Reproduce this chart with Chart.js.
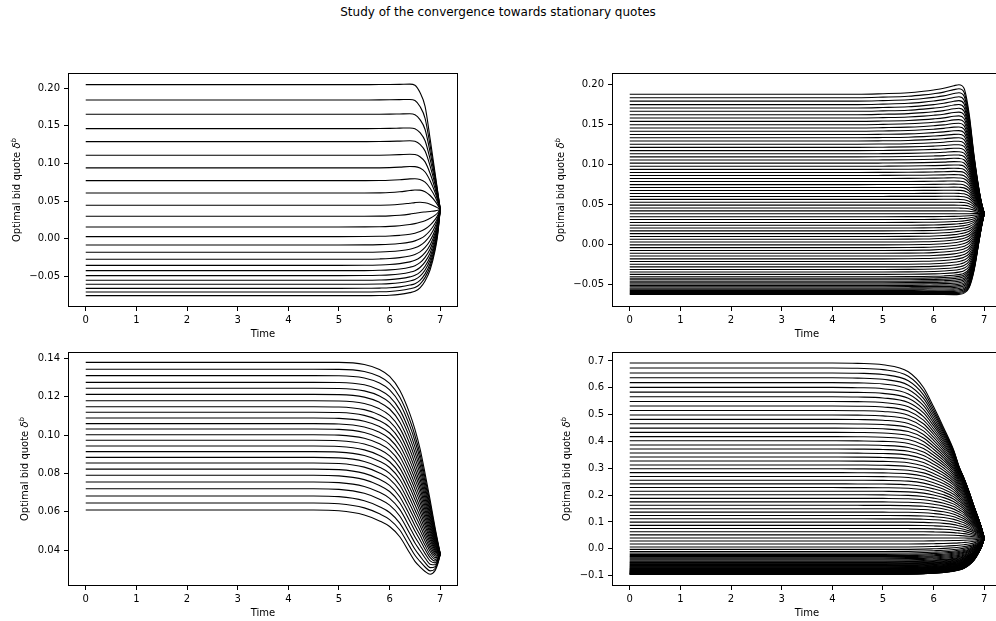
<!DOCTYPE html>
<html>
<head>
<meta charset="utf-8">
<script src="https://cdn.jsdelivr.net/npm/chart.js@4.4.0/dist/chart.umd.min.js"></script>
<style>
  html, body { margin: 0; padding: 0; background: #fff; overflow: hidden; width: 996px; height: 621px; }
  body { position: relative; font-family: "DejaVu Sans", sans-serif; }
  #suptitle { position: absolute; left: 0; top: 5px; width: 996px; text-align: center; font-size: 12px; line-height: 14px; color: #000; }
  canvas { position: absolute; }
</style>
</head>
<body>
<div id="suptitle">Study of the convergence towards stationary quotes</div>
<canvas id="chartA"></canvas>
<canvas id="chartB"></canvas>
<canvas id="chartC"></canvas>
<canvas id="chartD"></canvas>
<script>
// time grid shared by every curve
const times = [0, 4.0, 4.5, 5.0, 5.5, 5.8, 6.0, 6.2, 6.4, 6.5, 6.6, 6.7, 6.8, 6.9, 6.95, 7.0];
const xTicks = [0, 1, 2, 3, 4, 5, 6, 7];

// --- top left ---
const levelsA = [0.2049, 0.1845, 0.1654, 0.1464, 0.1291, 0.1109, 0.0941, 0.0772, 0.0608, 0.0444,
  0.0298, 0.0156, 0.0028, -0.0083, -0.0181, -0.0274, -0.0354, -0.0425, -0.0491, -0.0553,
  -0.0606, -0.0660, -0.0708, -0.0757];
const bumpsA = [0.001, 0.0015, 0.002, 0.0025, 0.003, 0.0035, 0.004, 0.0045, 0.0055, 0.0045,
  0.003, 0.0015, 0, 0, 0, 0, 0, 0, 0, 0, 0, 0, 0, 0];
const endA = 0.039;
const hiNearA = [1, 1, 1, 1, 1, 1, 1, 0.995, 0.98, 0.96, 0.92, 0.84, 0.68, 0.42, 0.23, 0];
const hiFarA = [1, 1, 1, 1, 1, 1, 1, 1, 1, 0.99, 0.93, 0.82, 0.56, 0.28, 0.14, 0];
const loNearA = [1, 1, 1, 1, 0.995, 0.985, 0.97, 0.94, 0.89, 0.84, 0.77, 0.67, 0.52, 0.32, 0.18, 0];
const loFarA = [1, 1, 1, 1, 1, 0.998, 0.995, 0.985, 0.965, 0.95, 0.91, 0.83, 0.70, 0.47, 0.29, 0];
const bumpShapeA = [0, 0, 0, 0, 0, 0.03, 0.1, 0.3, 0.65, 0.85, 1.0, 0.95, 0.72, 0.36, 0.17, 0];
const yTicksA = [-0.05, 0.00, 0.05, 0.10, 0.15, 0.20];

// --- top right ---
const levelsB = [0.1880, 0.1837, 0.1794, 0.1751, 0.1709, 0.1667, 0.1625, 0.1583, 0.1541, 0.1500,
  0.1459, 0.1418, 0.1377, 0.1336, 0.1296, 0.1256, 0.1216, 0.1176, 0.1136, 0.1097,
  0.1058, 0.1019, 0.0980, 0.0941, 0.0903, 0.0865, 0.0827, 0.0789, 0.0751, 0.0714,
  0.0677, 0.0640, 0.0603, 0.0566, 0.0530, 0.0494, 0.0458, 0.0422, 0.0386, 0.0350,
  0.0314, 0.0278, 0.0243, 0.0208, 0.0173, 0.0138, 0.0103, 0.0068, 0.0033, -0.0002,
  -0.0037, -0.0072, -0.0107, -0.0142, -0.0177, -0.0211, -0.0245, -0.0278, -0.0310, -0.0341,
  -0.0371, -0.0400, -0.0420, -0.0439, -0.0457, -0.0475, -0.0492, -0.0509, -0.0525, -0.0541,
  -0.0556, -0.0571, -0.0585, -0.0598, -0.0610, -0.0621];
const endB = 0.039;
const hiNearB = [1, 1, 1, 1, 1, 1, 1, 1, 1, 0.99, 0.97, 0.88, 0.62, 0.30, 0.14, 0];
const hiFarB = [1, 1, 1.0, 1.005, 1.013, 1.025, 1.036, 1.05, 1.072, 1.08, 1.05, 0.84, 0.48, 0.19, 0.08, 0];
const loNearB = [1, 1, 1, 1, 0.995, 0.985, 0.97, 0.94, 0.89, 0.85, 0.80, 0.72, 0.57, 0.33, 0.17, 0];
const loFarB = [1, 1, 1, 1, 1, 1, 1.0, 1.002, 1.003, 1.0, 0.985, 0.92, 0.70, 0.33, 0.15, 0];
const yTicksB = [-0.05, 0.00, 0.05, 0.10, 0.15, 0.20];

// --- bottom left ---
const levelsC = [0.1379, 0.1343, 0.1310, 0.1275, 0.1244, 0.1212, 0.1179, 0.1148, 0.1119, 0.1089,
  0.1060, 0.1032, 0.1002, 0.0973, 0.0943, 0.0914, 0.0884, 0.0855, 0.0823, 0.0791,
  0.0756, 0.0721, 0.0683, 0.0646, 0.0610];
const dipsC = [-0.0010, -0.0018, -0.0025, -0.0033, -0.0041, -0.0049, -0.0056, -0.0064, -0.0072, -0.0079,
  -0.0087, -0.0095, -0.0103, -0.0110, -0.0118, -0.0126, -0.0133, -0.0141, -0.0149, -0.0156,
  -0.0164, -0.0172, -0.0180, -0.0187, -0.0195];
const endC = 0.038;
const baseC = [1, 1, 1, 1, 0.99, 0.965, 0.93, 0.86, 0.74, 0.66, 0.56, 0.43, 0.29, 0.14, 0.07, 0];
const dipShapeC = [0, 0, 0, 0.02, 0.12, 0.25, 0.36, 0.55, 0.85, 0.97, 1.0, 0.97, 0.88, 0.6, 0.35, 0];
const yTicksC = [0.04, 0.06, 0.08, 0.10, 0.12, 0.14];

// --- bottom right ---
const levelsD = [0.6925, 0.6739, 0.6555, 0.6373, 0.6193, 0.6015, 0.5839, 0.5665, 0.5493, 0.5323,
  0.5155, 0.4988, 0.4823, 0.4660, 0.4499, 0.4340, 0.4182, 0.4026, 0.3872, 0.3720,
  0.3569, 0.3420, 0.3272, 0.3126, 0.2982, 0.2839, 0.2698, 0.2558, 0.2420, 0.2283,
  0.2148, 0.2014, 0.1882, 0.1751, 0.1622, 0.1494, 0.1368, 0.1243, 0.1119, 0.0997,
  0.0876, 0.0756, 0.0638, 0.0521, 0.0405, 0.0291, 0.0178, 0.0068, -0.0022, -0.0097,
  -0.0157, -0.0207, -0.0252, -0.0292, -0.0332, -0.0372, -0.0412, -0.0452, -0.0480, -0.0507,
  -0.0533, -0.0558, -0.0582, -0.0605, -0.0627, -0.0648, -0.0668, -0.0687, -0.0705, -0.0722,
  -0.0738, -0.0754, -0.0769, -0.0783, -0.0797, -0.0810, -0.0823, -0.0835, -0.0847, -0.0858,
  -0.0869, -0.0879, -0.0889, -0.0898, -0.0907, -0.0915, -0.0923, -0.0930, -0.0937, -0.0943,
  -0.0948, -0.0950];
const endD = 0.039;
const hiNearD = [1, 1, 1, 1, 1, 0.995, 0.98, 0.95, 0.88, 0.81, 0.73, 0.60, 0.44, 0.26, 0.14, 0];
const hiFarD = [1, 1, 0.998, 0.99, 0.95, 0.86, 0.75, 0.63, 0.50, 0.41, 0.34, 0.26, 0.17, 0.09, 0.05, 0];
const loNearD = [1, 1, 1, 1, 0.99, 0.965, 0.93, 0.89, 0.82, 0.77, 0.70, 0.62, 0.50, 0.30, 0.16, 0];
const loFarD = [1, 1, 1, 1, 0.995, 0.985, 0.97, 0.95, 0.91, 0.88, 0.83, 0.74, 0.60, 0.37, 0.22, 0];
const yTicksD = [-0.1, 0.0, 0.1, 0.2, 0.3, 0.4, 0.5, 0.6, 0.7];

const font = { family: 'DejaVu Sans', size: 10 };

// each quote leaves its stationary level and heads to the terminal quote;
// the relaxation shape is blended between the near and far profiles of its side
function buildCurves(levels, end, shapes, bumps) {
  const hiSpan = Math.max(...levels) - end;
  const loSpan = end - Math.min(...levels);
  return levels.map((level, i) => {
    const above = level >= end;
    const w = above ? (level - end) / hiSpan : (end - level) / loSpan;
    const near = above ? shapes.hiNear : shapes.loNear;
    const far = above ? shapes.hiFar : shapes.loFar;
    return times.map((t, k) => ({
      x: t,
      y: end + (level - end) * (near[k] * (1 - w) + far[k] * w) + (bumps ? bumps[i] * shapes.bump[k] : 0)
    }));
  });
}

function fmt(v, d) {
  return v.toFixed(d).replace('-', '\u2212');
}

// frame, x label and the y label with its superscript
const decor = {
  id: 'decor',
  afterDraw(chart) {
    const { ctx, chartArea: a } = chart;
    ctx.save();
    ctx.strokeStyle = '#000';
    ctx.lineWidth = 1;
    ctx.strokeRect(a.left + 0.5, a.top + 0.5, a.right - a.left - 1, a.bottom - a.top - 1);

    ctx.fillStyle = '#000';
    ctx.font = '10px "DejaVu Sans"';
    ctx.textAlign = 'center';
    ctx.textBaseline = 'alphabetic';
    ctx.fillText('Time', (a.left + a.right) / 2, a.bottom + 30);

    const labels = chart.scales.y.ticks.map(t => t.label);
    const maxW = Math.max(...labels.map(s => ctx.measureText(s).width));
    const baseX = a.left - 8 - maxW - 9.5;
    const parts = [
      { text: 'Optimal bid quote ', font: '10px "DejaVu Sans"', dy: 0 },
      { text: '\u03b4', font: 'italic 10px "DejaVu Sans"', dy: 0 },
      { text: 'b', font: 'italic 7px "DejaVu Sans"', dy: -4 }
    ];
    let total = 0;
    parts.forEach(p => { ctx.font = p.font; p.w = ctx.measureText(p.text).width; total += p.w; });
    ctx.translate(baseX, (a.top + a.bottom) / 2);
    ctx.rotate(-Math.PI / 2);
    ctx.textAlign = 'left';
    let x = -total / 2;
    parts.forEach(p => { ctx.font = p.font; ctx.fillText(p.text, x, p.dy); x += p.w; });
    ctx.restore();
  }
};

function makeChart(id, plot, curves, yMin, yMax, yTicks, decimals) {
  const padL = 70, padT = 10, padR = 10, padB = 50;
  const canvas = document.getElementById(id);
  canvas.width = plot.w + padL + padR;
  canvas.height = plot.h + padT + padB;
  canvas.style.left = (plot.x - padL) + 'px';
  canvas.style.top = (plot.y - padT) + 'px';

  const grid = { display: true, drawOnChartArea: false, drawTicks: true, tickLength: 4, tickWidth: 1, tickColor: '#000' };

  return new Chart(canvas, {
    type: 'line',
    data: {
      datasets: curves.map(pts => ({
        data: pts,
        borderColor: '#000',
        borderWidth: 1.1,
        pointRadius: 0,
        fill: false,
        cubicInterpolationMode: 'monotone'
      }))
    },
    options: {
      responsive: false,
      animation: false,
      devicePixelRatio: 1,
      events: [],
      layout: { padding: { left: 0, top: padT, right: padR, bottom: 0 } },
      plugins: { legend: { display: false }, tooltip: { enabled: false } },
      scales: {
        x: {
          type: 'linear',
          min: -0.35,
          max: 7.35,
          afterFit: s => { s.height = padB; },
          afterBuildTicks: s => { s.ticks = xTicks.map(v => ({ value: v })); },
          ticks: { font: font, color: '#000', padding: 3, maxRotation: 0, callback: v => String(v) },
          grid: grid,
          border: { display: false }
        },
        y: {
          type: 'linear',
          min: yMin,
          max: yMax,
          afterFit: s => { s.width = padL; },
          afterBuildTicks: s => { s.ticks = yTicks.map(v => ({ value: v })); },
          ticks: { font: font, color: '#000', padding: 4, callback: v => fmt(v, decimals) },
          grid: grid,
          border: { display: false }
        }
      }
    },
    plugins: [decor]
  });
}

const curvesA = buildCurves(levelsA, endA,
  { hiNear: hiNearA, hiFar: hiFarA, loNear: loNearA, loFar: loFarA, bump: bumpShapeA }, bumpsA);
const curvesB = buildCurves(levelsB, endB,
  { hiNear: hiNearB, hiFar: hiFarB, loNear: loNearB, loFar: loFarB });
const curvesC = buildCurves(levelsC, endC,
  { hiNear: baseC, hiFar: baseC, loNear: baseC, loFar: baseC, bump: dipShapeC }, dipsC);
const curvesD = buildCurves(levelsD, endD,
  { hiNear: hiNearD, hiFar: hiFarD, loNear: loNearD, loFar: loFarD });

makeChart('chartA', { x: 68, y: 73, w: 390, h: 234 }, curvesA, -0.0908, 0.2203, yTicksA, 2);
makeChart('chartB', { x: 612, y: 73, w: 390, h: 234 }, curvesB, -0.0779, 0.2146, yTicksB, 2);
makeChart('chartC', { x: 68, y: 352, w: 390, h: 234 }, curvesC, 0.0214, 0.1433, yTicksC, 2);
makeChart('chartD', { x: 612, y: 352, w: 390, h: 234 }, curvesD, -0.1385, 0.7335, yTicksD, 1);
</script>
</body>
</html>
